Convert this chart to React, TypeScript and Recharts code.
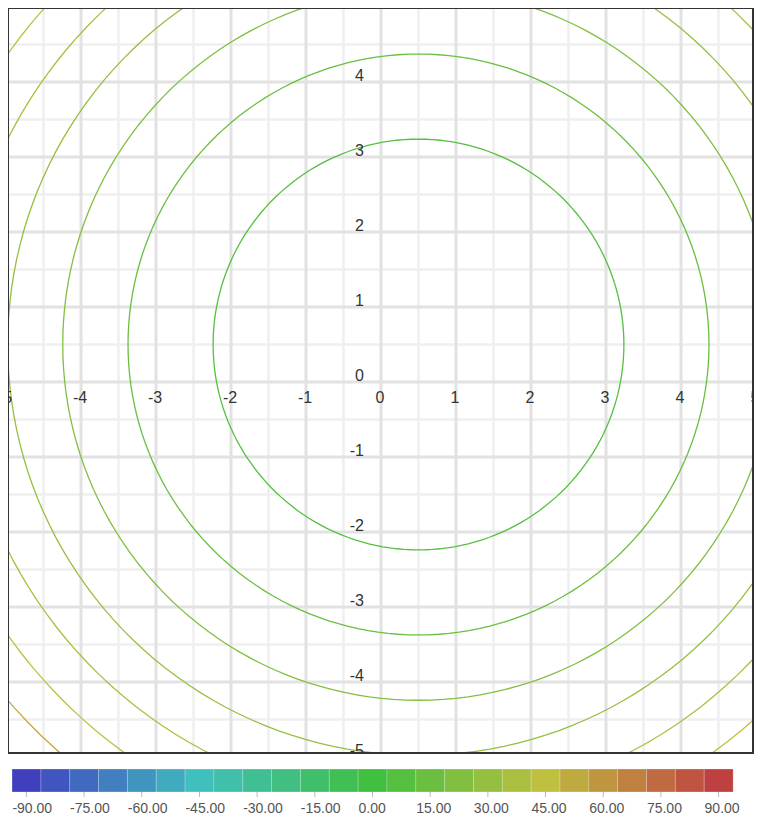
import React from 'react';
import {
  ComposedChart,
  Line,
  Scatter,
  XAxis,
  YAxis,
  ReferenceLine,
  BarChart,
  Bar,
  Cell,
} from 'recharts';

// contour levels of f(x, y) = (x - 0.5)^2 + (y - 0.5)^2
const LEVELS = [7.5, 15, 22.5, 30, 37.5, 45, 52.5, 60];
const CENTER_X = 0.5;
const CENTER_Y = 0.5;

const AXIS_TICKS = [-5, -4, -3, -2, -1, 0, 1, 2, 3, 4, 5];
const GRID_MINOR = [-4.5, -3.5, -2.5, -1.5, -0.5, 0.5, 1.5, 2.5, 3.5, 4.5];

// colour scale cells
const SCALE_VALUES = [
  -90, -82.5, -75, -67.5, -60, -52.5, -45, -37.5, -30, -22.5, -15, -7.5, 0,
  7.5, 15, 22.5, 30, 37.5, 45, 52.5, 60, 67.5, 75, 82.5, 90,
];

const levelColor = (v: number) => `hsl(${120 - (v * 4) / 3}, 50%, 50%)`;

const contourPath = (level: number) => {
  const r = Math.sqrt(level);
  const pts = [];
  for (let a = 0; a <= 360; a += 2) {
    const t = (a * Math.PI) / 180;
    pts.push({ x: CENTER_X + r * Math.cos(t), y: CENTER_Y + r * Math.sin(t) });
  }
  return pts;
};

const xLabels = AXIS_TICKS.map((t) => ({ x: t, y: 0, label: String(t) }));
const yLabels = AXIS_TICKS.map((t) => ({ x: 0, y: t, label: String(t) }));
const scaleData = SCALE_VALUES.map((v) => ({ v, one: 1 }));

const FONT = 'Arial, "Liberation Sans", sans-serif';

const XLabel = (props: any) => (
  <text x={props.cx - 1} y={props.cy + 21} textAnchor="middle" fontSize={16} fill="#333" fontFamily={FONT}>
    {props.payload.label}
  </text>
);

const YLabel = (props: any) => (
  <text x={props.cx - 17} y={props.cy - 1} textAnchor="end" fontSize={16} fill="#333" fontFamily={FONT}>
    {props.payload.label}
  </text>
);

const ScaleTick = (props: any) => (
  <text x={props.x - 14} y={props.y + 14} textAnchor="start" fontSize={14} fill="#555" fontFamily={FONT}>
    {Number(props.payload.value).toFixed(2)}
  </text>
);

export default function App() {
  return (
    <div style={{ position: 'relative', width: 762, height: 822, margin: -8, background: '#fff', fontFamily: FONT }}>
      <div
        style={{
          position: 'absolute',
          left: 7,
          top: 7,
          width: 747,
          height: 747,
          border: '2px solid #333',
          boxSizing: 'border-box',
          overflow: 'hidden',
          background: '#fff',
        }}
      >
        <div style={{ position: 'absolute', left: -3, top: -2 }}>
          <ComposedChart width={750} height={750} margin={{ top: 0, right: 0, bottom: 0, left: 0 }}>
            <XAxis type="number" dataKey="x" domain={[-5, 5]} allowDataOverflow hide />
            <YAxis type="number" dataKey="y" domain={[-5, 5]} allowDataOverflow hide />
            {GRID_MINOR.map((g) => (
              <ReferenceLine key={`mx${g}`} x={g} stroke="#efefef" strokeWidth={2.5} />
            ))}
            {GRID_MINOR.map((g) => (
              <ReferenceLine key={`my${g}`} y={g} stroke="#efefef" strokeWidth={2.5} />
            ))}
            {AXIS_TICKS.map((g) => (
              <ReferenceLine key={`Mx${g}`} x={g} stroke="#e2e2e2" strokeWidth={3} />
            ))}
            {AXIS_TICKS.map((g) => (
              <ReferenceLine key={`My${g}`} y={g} stroke="#e2e2e2" strokeWidth={3} />
            ))}
            {LEVELS.map((lv) => (
              <Line
                key={lv}
                data={contourPath(lv)}
                dataKey="y"
                type="linear"
                stroke={levelColor(lv)}
                strokeWidth={1.3}
                dot={false}
                activeDot={false}
                isAnimationActive={false}
              />
            ))}
            <Scatter data={xLabels} dataKey="y" shape={XLabel} isAnimationActive={false} />
            <Scatter data={yLabels} dataKey="y" shape={YLabel} isAnimationActive={false} />
          </ComposedChart>
        </div>
      </div>
      <div style={{ position: 'absolute', left: 12, top: 769 }}>
        <BarChart width={750} height={53} data={scaleData} margin={{ top: 0, right: 29, bottom: 0, left: 0 }} barCategoryGap={0}>
          <XAxis
            dataKey="v"
            interval={1}
            axisLine={false}
            tickSize={5}
            tickLine={{ stroke: '#bbb' }}
            tick={<ScaleTick />}
            height={30}
          />
          <YAxis hide domain={[0, 1]} />
          <Bar dataKey="one" isAnimationActive={false}>
            {scaleData.map((d) => (
              <Cell key={d.v} fill={levelColor(d.v)} stroke="#ffffff" strokeOpacity={0.25} strokeWidth={1} />
            ))}
          </Bar>
        </BarChart>
      </div>
    </div>
  );
}
